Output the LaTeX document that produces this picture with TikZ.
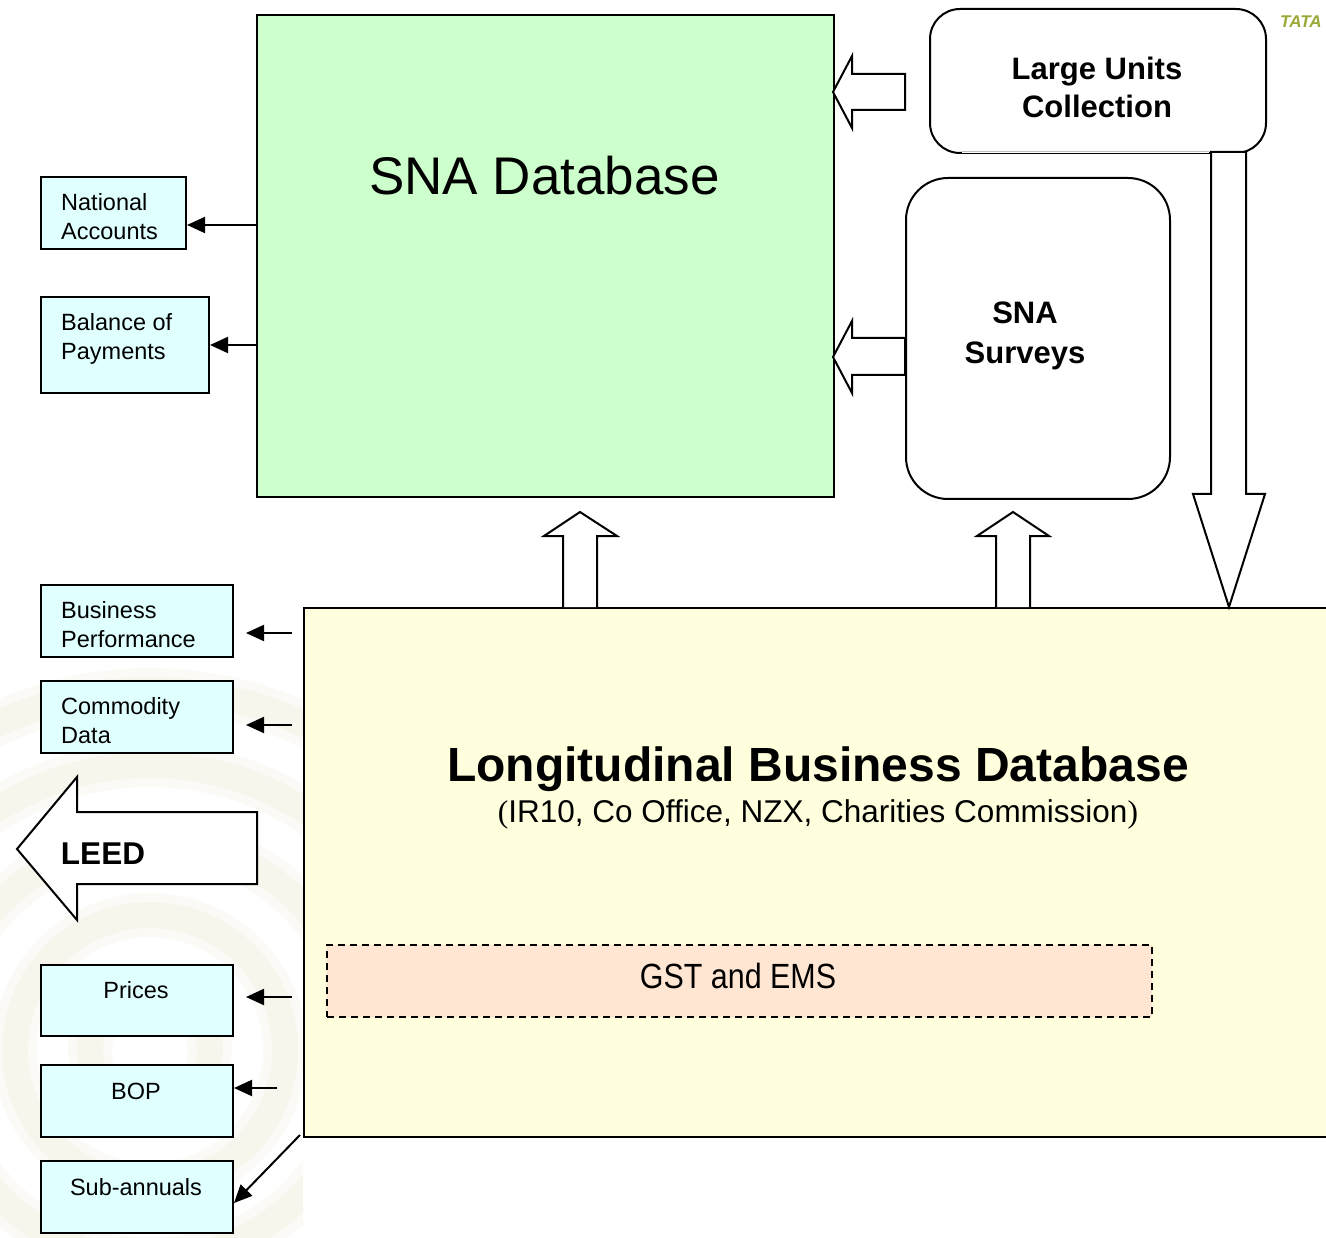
\documentclass[tikz,border=0pt]{standalone}
\usepackage{fontspec}
\setmainfont{Liberation Sans}
\newfontfamily\parenfont{Liberation Serif}
\usetikzlibrary{arrows.meta}

\definecolor{snagreen}{HTML}{CCFFCC}
\definecolor{lbdyellow}{HTML}{FFFFDD}
\definecolor{outcyan}{HTML}{E0FFFF}
\definecolor{gstpeach}{HTML}{FFE6D2}
\definecolor{swirlring}{HTML}{EFEBD8}
\definecolor{logoolive}{HTML}{9CA838}

\newcommand\fsz[2]{\fontsize{#1pt}{#2pt}\selectfont}

\tikzset{
  boxline/.style={draw=black, line width=2pt},
  outbox/.style={boxline, fill=outcyan, rectangle, inner sep=0pt, anchor=north west},
  outlabel/.style={inner sep=0pt, align=left, anchor=west, font=\fsz{23.5}{29}},
  toplabel/.style={inner sep=0pt, anchor=center, font=\fsz{23.5}{29}},
  roundbox/.style={boxline, fill=white, rectangle, inner sep=0pt, anchor=north west},
  bigarrow/.style={draw=black, line width=2pt, fill=white, line join=miter},
  feed/.style={draw=black, line width=2pt, -{Triangle[length=18pt,width=16pt]}},
}

\begin{document}
\begin{tikzpicture}[x=1pt, y=-1pt]
\useasboundingbox (0,0) rectangle (1326,1238);
\fill[white] (0,0) rectangle (1326,1238);

% faint concentric rings of the slide background
\begin{scope}
  \clip (0,600) rectangle (303,1238);
  \foreach \r in {60,135,210,285,360} {
    \draw[swirlring, opacity=0.22, line width=44pt] (150,1050) circle[radius=\r pt];
    \draw[swirlring, opacity=0.3, line width=26pt] (150,1050) circle[radius=\r pt];
  }
\end{scope}

% corner logo text
\node[inner sep=0pt, anchor=west, text=logoolive, font=\fsz{17}{20}\bfseries\itshape] (logo) at (1280,22) {TATA};

% main databases
\node[boxline, fill=snagreen, rectangle, inner sep=0pt, anchor=north west,
      minimum width=577pt, minimum height=482pt] (sna) at (256,14) {};
\node[inner sep=0pt, font=\fsz{53}{60}] (snatitle) at (544.5,176) {SNA Database};

\node[boxline, fill=lbdyellow, rectangle, inner sep=0pt, anchor=north west,
      minimum width=1050pt, minimum height=529pt] (lbd) at (303,607) {};
\node[inner sep=0pt, font=\fsz{48}{56}\bfseries] (lbdtitle) at (818,769) {Longitudinal Business Database};
\node[inner sep=0pt, font=\fsz{31.5}{36}] (lbdsrc) at (818,814)
  {{\parenfont(}IR10, Co Office, NZX, Charities Commission{\parenfont)}};

\node[draw=black, line width=1.5pt, dash pattern=on 7pt off 5pt, fill=gstpeach,
      rectangle, inner sep=0pt, anchor=north west,
      minimum width=825pt, minimum height=72pt] (gst) at (326,944) {};
\node[inner sep=0pt, font=\fsz{35}{40}] (gsttext) at (738,976) {\scalebox{0.87}[1]{GST and EMS}};

% collection boxes
\node[roundbox, rounded corners=30pt, minimum width=336pt, minimum height=144pt] (luc) at (929,8) {};
\draw[white, line width=3pt] (962,152) -- (1209,152);
\draw[black!25, line width=1pt] (962,152) -- (1209,152);
\node[inner sep=0pt, align=center, font=\fsz{31}{38}\bfseries] (luctext) at (1097,87)
  {Large Units\\Collection};

\node[roundbox, rounded corners=42pt, minimum width=264pt, minimum height=321pt] (surv) at (905,177) {};
\node[inner sep=0pt, align=center, font=\fsz{31}{40}\bfseries] (survtext) at (1025,336)
  {SNA\\Surveys};

% block arrows between the databases and the collections
\draw[bigarrow] (905,74) -- (852,74) -- (852,56) -- (833,92) -- (852,128) -- (852,110) -- (905,110) -- cycle;
\draw[bigarrow] (905,338) -- (852,338) -- (852,321) -- (833,357) -- (852,393) -- (852,375) -- (905,375) -- cycle;
\draw[bigarrow] (1211,152) -- (1246,152) -- (1246,494) -- (1265,494) -- (1229,607) -- (1193,494) -- (1211,494) -- cycle;
\draw[bigarrow] (563,607) -- (563,536) -- (544,536) -- (580,512) -- (617,536) -- (597,536) -- (597,607);
\draw[bigarrow] (996,607) -- (996,536) -- (977,536) -- (1013,512) -- (1049,536) -- (1030,536) -- (1030,607);

% outputs of the SNA database
\node[outbox, minimum width=145pt, minimum height=72pt] (na) at (40,176) {};
\node[outlabel] (natext) at (61,217) {National\\Accounts};
\node[outbox, minimum width=168pt, minimum height=96pt] (bop1) at (40,296) {};
\node[outlabel] (bop1text) at (61,339) {Balance of\\Payments};
\coordinate (naIn) at ([yshift=-12pt]na.east);
\coordinate (bop1In) at (bop1.east);
\draw[feed] (naIn -| sna.west) -- (naIn);
\draw[feed] (bop1In -| sna.west) -- (bop1In);

% outputs of the longitudinal database
\node[outbox, minimum width=192pt, minimum height=72pt] (bp) at (40,584) {};
\node[outlabel] (bptext) at (61,625) {Business\\Performance};
\node[outbox, minimum width=192pt, minimum height=72pt] (cd) at (40,680) {};
\node[outlabel] (cdtext) at (61,721) {Commodity\\Data};
\node[outbox, minimum width=192pt, minimum height=71pt] (pr) at (40,964) {};
\node[toplabel] (prtext) at (136,990) {Prices};
\node[outbox, minimum width=192pt, minimum height=72pt] (bop2) at (40,1064) {};
\node[toplabel] (bop2text) at (136,1091) {BOP};
\node[outbox, minimum width=192pt, minimum height=72pt] (sub) at (40,1160) {};
\node[toplabel] (subtext) at (136,1187) {Sub-annuals};

\coordinate (bpFrom) at (292,633);
\coordinate (cdFrom) at (292,725);
\coordinate (prFrom) at (292,997);
\coordinate (bop2From) at (277,1088);
\draw[feed, shorten >=12pt] (bpFrom) -- (bpFrom -| bp.east);
\draw[feed, shorten >=12pt] (cdFrom) -- (cdFrom -| cd.east);
\draw[feed, shorten >=12pt] (prFrom) -- (prFrom -| pr.east);
\draw[feed] (bop2From) -- (bop2From -| bop2.east);
\coordinate (subIn) at ([yshift=-6pt]sub.east);
\draw[feed] ([shift={(-3pt,3pt)}]lbd.south west) -- (subIn);

% LEED block arrow
\draw[bigarrow] (257,812) -- (77,812) -- (77,777) -- (17,849) -- (77,920) -- (77,884) -- (257,884) -- cycle;
\node[inner sep=0pt, font=\fsz{31.5}{36}\bfseries] (leed) at (103,854) {LEED};
\end{tikzpicture}
\end{document}
